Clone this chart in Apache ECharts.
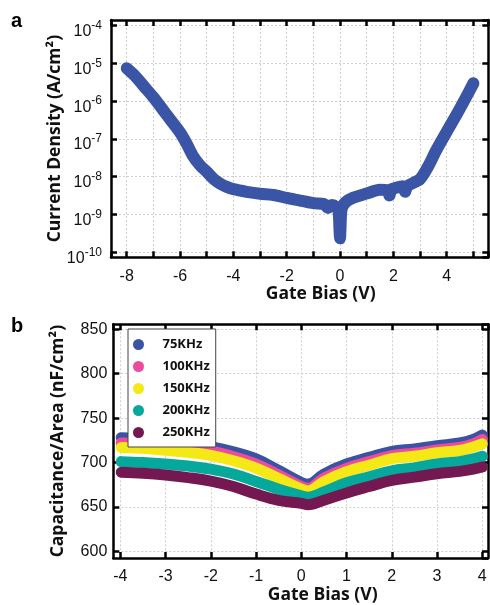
<!DOCTYPE html>
<html><head><meta charset="utf-8">
<script src="https://cdn.jsdelivr.net/npm/echarts@6/dist/echarts.min.js"></script>
<style>html,body{margin:0;padding:0;background:#fff}#c{width:490px;height:605px}</style>
</head><body><div id="c"></div>
<script>
// ---- Panel a: current density vs gate bias ----
const ivBias = [-8, -7.7, -7.34, -7, -6.5, -6, -5.75, -5.5, -5.25, -5,
  -4.75, -4.5, -4.25, -4, -3.5, -3, -2.5, -2, -1.5, -1,
  -0.6, -0.45, -0.3, -0.15, -0.06, -0.02, 0, 0.02, 0.06, 0.2,
  0.5, 1, 1.5, 1.78, 1.85, 1.92, 2.0, 2.35, 2.44, 2.52,
  3.0, 3.3, 3.6, 4.0, 4.4, 4.7, 5.0];
const ivCurrent = [7.4e-6, 4.7e-6, 2.4e-6, 1.26e-6, 4.3e-7, 1.48e-7, 7.4e-8, 3.4e-8, 2.0e-8, 1.35e-8,
  8.9e-9, 6.6e-9, 5.4e-9, 4.7e-9, 4.0e-9, 3.55e-9, 3.3e-9, 2.75e-9, 2.35e-9, 2.0e-9,
  1.9e-9, 1.5e-9, 1.8e-9, 1.6e-9, 1.3e-9, 4.0e-10, 2.35e-10, 5.0e-10, 1.4e-9, 2.1e-9,
  2.8e-9, 3.6e-9, 4.5e-9, 4.4e-9, 3.2e-9, 4.7e-9, 4.9e-9, 5.6e-9, 4.0e-9, 5.6e-9,
  8.7e-9, 1.86e-8, 4.9e-8, 1.55e-7, 4.8e-7, 1.17e-6, 2.95e-6];

// ---- Panel b: capacitance/area vs gate bias ----
const cvBias = [-3.98, -3.5, -3, -2.5, -2, -1.5, -1, -0.5, 0, 0.15, 0.5, 1, 1.5, 2, 2.5, 3, 3.5, 3.8, 4.0];
const cap75KHz  = [728, 726.5, 724.5, 722, 718, 712, 704, 691, 677.6, 675.7, 687, 698.3, 705.8, 712.6, 715.3, 719, 722, 726, 731];
const cap100KHz = [722, 721, 719, 716.5, 713, 706.5, 698.3, 686, 673, 671, 682.5, 693.4, 701, 707.7, 710.5, 714, 717, 721, 726];
const cap150KHz = [717, 716, 713.8, 711.5, 708, 702, 693.8, 682, 670, 668, 678.5, 689.6, 697, 704.3, 707, 711, 713.5, 717.5, 721];
const cap200KHz = [701, 700, 698.3, 696, 692.5, 687, 678.7, 670, 662.5, 661, 667, 677.2, 684, 690.7, 694, 698.3, 701, 704, 707];
const cap250KHz = [689, 688, 686, 683, 679, 673, 664.5, 657.5, 654, 652.5, 657.5, 665.8, 673, 679.8, 683.5, 687.4, 690, 692.5, 695];
const freqNames = ['75KHz', '100KHz', '150KHz', '200KHz', '250KHz'];
const capSeries = [cap75KHz, cap100KHz, cap150KHz, cap200KHz, cap250KHz];

const freqColors = ['#3a53a4', '#ee4c9b', '#f4e816', '#07a89c', '#741852'];
const ivColor = '#3a55a5';

const chart = echarts.init(document.getElementById('c'), null, {renderer: 'canvas'});
const tickStyle = {color: '#000', width: 2.5};
const gridLine = {show: true, lineStyle: {color: '#cfcfcf', type: [2, 2], width: 1}};
const labelFont = {fontFamily: 'Liberation Sans', fontSize: 16, color: '#111'};
const nameFont = {fontFamily: 'Open Sans', fontWeight: 'bold', fontSize: 17.5, color: '#111'};

function xAx(grid, pos, min, max, split, opts) {
  return Object.assign({
    type: 'value', gridIndex: grid, position: pos, min: min, max: max, splitNumber: split,
    axisLine: {show: true, onZero: false, lineStyle: {color: '#000', width: 2.5}},
    axisTick: {show: true, inside: true, length: 6, lineStyle: tickStyle},
    axisLabel: {show: false},
    splitLine: {show: false}
  }, opts || {});
}

const ivData = ivBias.map((v, i) => [v, ivCurrent[i]]);

const option = {
  animation: false,
  backgroundColor: '#fff',
  grid: [
    {left: 111, top: 20, width: 377.3, height: 237.3},
    {left: 113.3, top: 324.3, width: 374.7, height: 234}
  ],
  xAxis: [
    xAx(0, 'bottom', -8.59, 5.56, 7, {
      minorTick: {show: true, splitNumber: 2, length: 6, lineStyle: tickStyle},
      splitLine: gridLine,
      minorSplitLine: gridLine,
      axisLabel: Object.assign({show: true, margin: 11, showMinLabel: false, showMaxLabel: false}, labelFont),
      name: 'Gate Bias (V)', nameLocation: 'middle', nameGap: 28,
      nameTextStyle: Object.assign({padding: [0, 0, 0, 42]}, nameFont)
    }),
    xAx(0, 'top', -8.59, 5.56, 7, {
      minorTick: {show: true, splitNumber: 2, length: 6, lineStyle: tickStyle}
    }),
    xAx(1, 'bottom', -4.155, 4.126, 8, {
      splitLine: gridLine,
      axisLabel: Object.assign({show: true, margin: 11, showMinLabel: false, showMaxLabel: false}, labelFont),
      name: 'Gate Bias (V)', nameLocation: 'middle', nameGap: 28,
      nameTextStyle: Object.assign({padding: [0, 0, 0, 44]}, nameFont)
    }),
    xAx(1, 'top', -4.155, 4.126, 8)
  ],
  yAxis: [
    {
      type: 'log', logBase: 10, gridIndex: 0, position: 'left', min: 7.41e-11, max: 1.396e-4,
      axisLine: {show: true, onZero: false, lineStyle: {color: '#000', width: 2.5}},
      axisTick: {show: true, inside: true, length: 6, lineStyle: tickStyle},
      splitLine: gridLine,
      axisLabel: {
        show: true, margin: 9, showMinLabel: false, showMaxLabel: false, padding: [8, 0, 0, 0],
        formatter: function (v) { return '{a|10}{b|' + Math.round(Math.log10(v)) + '}'; },
        rich: {
          a: {fontFamily: 'Liberation Sans', fontSize: 16, color: '#111', verticalAlign: 'bottom'},
          b: {fontFamily: 'Liberation Sans', fontSize: 12, color: '#111', verticalAlign: 'bottom', padding: [0, 0, 8, 0]}
        }
      },
      name: 'Current Density (A/cm²)', nameLocation: 'middle', nameGap: 47, nameMoveOverlap: false,
      nameTextStyle: nameFont
    },
    {
      type: 'log', logBase: 10, gridIndex: 0, position: 'right', min: 7.41e-11, max: 1.396e-4,
      axisLine: {show: true, onZero: false, lineStyle: {color: '#000', width: 2.5}},
      axisTick: {show: true, inside: true, length: 6, lineStyle: tickStyle},
      axisLabel: {show: false}, splitLine: {show: false}
    },
    {
      type: 'value', gridIndex: 1, position: 'left', min: 592.5, max: 855.6, splitNumber: 5,
      axisLine: {show: true, onZero: false, lineStyle: {color: '#000', width: 2.5}},
      axisTick: {show: true, inside: true, length: 6, lineStyle: tickStyle},
      splitLine: gridLine,
      axisLabel: Object.assign({show: true, margin: 6, showMinLabel: false, showMaxLabel: false}, labelFont),
      name: 'Capacitance/Area (nF/cm²)', nameLocation: 'middle', nameGap: 46, nameMoveOverlap: false,
      nameTextStyle: nameFont
    },
    {
      type: 'value', gridIndex: 1, position: 'right', min: 592.5, max: 855.6, splitNumber: 5,
      axisLine: {show: true, onZero: false, lineStyle: {color: '#000', width: 2.5}},
      axisTick: {show: true, inside: true, length: 6, lineStyle: tickStyle},
      axisLabel: {show: false}, splitLine: {show: false}
    }
  ],
  legend: {
    data: freqNames,
    orient: 'vertical', left: 128, top: 329,
    padding: [9, 6, 8, 5],
    itemWidth: 20, itemHeight: 11, itemGap: 9,
    icon: 'circle',
    borderColor: '#444', borderWidth: 1, backgroundColor: '#fff',
    textStyle: {fontFamily: 'Open Sans', fontWeight: 'bold', fontSize: 13, color: '#111', padding: [0, 0, 0, 9]}
  },
  graphic: [
    {type: 'text', x: 11, y: 21, style: {text: 'a', font: 'bold 20px "Liberation Sans"', fill: '#000', verticalAlign: 'middle'}},
    {type: 'text', x: 11, y: 326, style: {text: 'b', font: 'bold 20px "Liberation Sans"', fill: '#000', verticalAlign: 'middle'}}
  ],
  series: [
    {
      type: 'line', name: 'J', xAxisIndex: 0, yAxisIndex: 0, data: ivData,
      showSymbol: false, color: ivColor, smooth: 0.3,
      lineStyle: {color: ivColor, width: 12, cap: 'round', join: 'round'}
    }
  ].concat(capSeries.map((arr, k) => ({
    type: 'line', name: freqNames[k], xAxisIndex: 2, yAxisIndex: 2,
    data: cvBias.map((v, i) => [v, arr[i]]),
    showSymbol: false, color: freqColors[k], smooth: 0.4,
    itemStyle: {color: freqColors[k]},
    lineStyle: {color: freqColors[k], width: 11, cap: 'round', join: 'round'}
  })))
};
chart.setOption(option);
</script></body></html>
